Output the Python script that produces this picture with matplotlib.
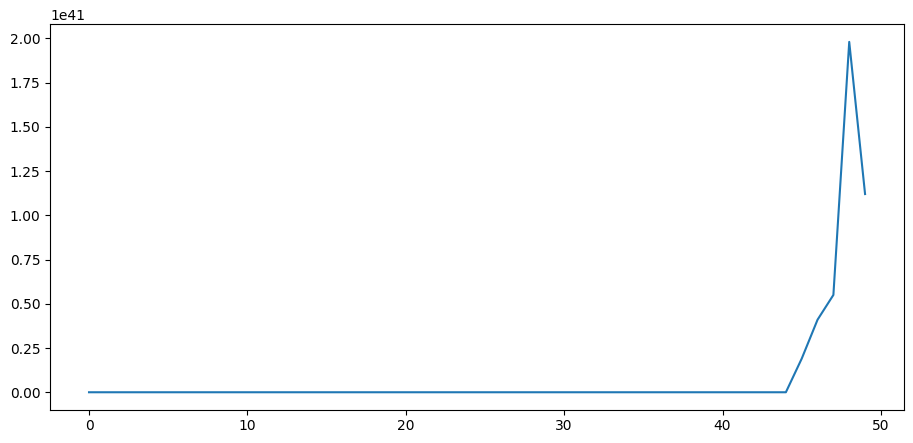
import matplotlib
matplotlib.use('Agg')
from matplotlib import pyplot as plt

# values, in units of 1e41
head = [0.0] * 45            # indices 0..44 sit on the baseline
tail = [0.19, 0.41, 0.55, 1.98, 1.12]   # indices 45..49
values = [v * 1e41 for v in head + tail]
x = list(range(len(values)))

fig, ax = plt.subplots(figsize=(9.13, 4.43), dpi=100)
ax.plot(x, values)
fig.subplots_adjust(left=0.055, right=0.99, bottom=0.075, top=0.945)
plt.savefig('out.png')
